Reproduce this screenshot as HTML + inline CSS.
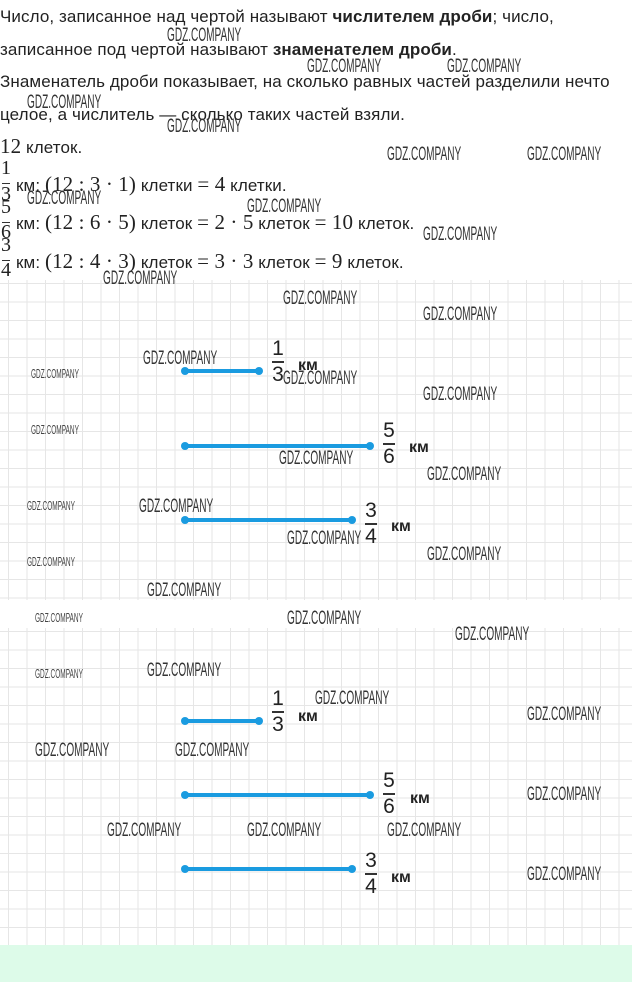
<!DOCTYPE html>
<html><head><meta charset="utf-8"><style>
*{margin:0;padding:0;box-sizing:border-box}
body{width:632px;height:982px;background:#fff;position:relative;overflow:hidden;font-family:"Liberation Sans",sans-serif;color:#222}
.t{position:absolute;left:0;font-size:17px;white-space:nowrap;letter-spacing:0.1px;line-height:20px}
.m{font-family:"Liberation Serif",serif;font-size:21px}
.grid{position:absolute;left:0;width:632px;background-color:#fff;
background-image:linear-gradient(to right,#e6e6e6 1px,transparent 1px),linear-gradient(to bottom,#e6e6e6 1px,transparent 1px);
background-size:18.5px 18.5px}
.w{position:absolute;font-family:"Liberation Sans",sans-serif;font-size:19px;color:#333;transform-origin:0 0;transform:scaleX(0.53);white-space:nowrap;line-height:20px}
.ws{position:absolute;font-size:13px;color:#444;transform-origin:0 0;transform:scaleX(0.5);white-space:nowrap}
.seg{position:absolute;height:4px;background:#1a9be0;border-radius:2px}
.seg:before,.seg:after{content:"";position:absolute;top:-2px;width:8px;height:8px;border-radius:50%;background:#1a9be0}
.seg:before{left:-4px}.seg:after{right:-4px}
.fr{position:absolute;font-size:21px;text-align:center;width:16px;line-height:22px;color:#222}
.fr i{display:block;font-style:normal}
.fr b{display:block;height:1.5px;background:#333;margin:1px 2px}
.km{position:absolute;font-size:16px;font-weight:bold;color:#222}
.sn{position:absolute;left:0;font-family:"Liberation Serif",serif;font-size:20px;line-height:20px;width:12px;text-align:center}
.sb{position:absolute;left:2px;width:8px;height:1.2px;background:#333}
</style></head><body>
<div class="t" style="top:7px">Число, записанное над чертой называют <b>числителем дроби</b>; число,</div>
<div class="t" style="top:40px">записанное под чертой называют <b>знаменателем дроби</b>.</div>
<div class="t" style="top:72px">Знаменатель дроби показывает, на сколько равных частей разделили нечто</div>
<div class="t" style="top:105px">целое, а числитель — сколько таких частей взяли.</div>
<div class="t" style="top:136px"><span class="m">12</span> клеток.</div>

<div class="sn" style="top:158px">1</div><div class="sb" style="top:183px"></div><div class="sn" style="top:184px">3</div>
<div class="t" style="left:16px;top:174px">км: <span class="m">(12 : 3 · 1)</span> клетки <span class="m">= 4</span> клетки.</div>
<div class="sn" style="top:197px">5</div><div class="sb" style="top:222px"></div><div class="sn" style="top:222px">6</div>
<div class="t" style="left:16px;top:212px">км: <span class="m">(12 : 6 · 5)</span> клеток <span class="m">= 2 · 5</span> клеток <span class="m">= 10</span> клеток.</div>
<div class="sn" style="top:235px">3</div><div class="sb" style="top:260px"></div><div class="sn" style="top:260px">4</div>
<div class="t" style="left:16px;top:251px">км: <span class="m">(12 : 4 · 3)</span> клеток <span class="m">= 3 · 3</span> клеток <span class="m">= 9</span> клеток.</div>

<div class="grid" style="top:280px;height:320px;background-position:8px 3px"></div>
<div class="grid" style="top:628px;height:318px;background-position:8px 3px"></div>
<div style="position:absolute;left:0;top:945px;width:632px;height:37px;background:#ddfbe9"></div>

<div class="seg" style="left:185px;top:369px;width:74px"></div>
<div class="fr" style="left:270px;top:338px"><i>1</i><b></b><i>3</i></div>
<div class="km" style="left:298px;top:357px">км</div>
<div class="seg" style="left:185px;top:444px;width:185px"></div>
<div class="fr" style="left:381px;top:420px"><i>5</i><b></b><i>6</i></div>
<div class="km" style="left:409px;top:439px">км</div>
<div class="seg" style="left:185px;top:518px;width:167px"></div>
<div class="fr" style="left:363px;top:500px"><i>3</i><b></b><i>4</i></div>
<div class="km" style="left:391px;top:518px">км</div>

<div class="seg" style="left:185px;top:719px;width:74px"></div>
<div class="fr" style="left:270px;top:688px"><i>1</i><b></b><i>3</i></div>
<div class="km" style="left:298px;top:708px">км</div>
<div class="seg" style="left:185px;top:793px;width:185px"></div>
<div class="fr" style="left:381px;top:770px"><i>5</i><b></b><i>6</i></div>
<div class="km" style="left:410px;top:790px">км</div>
<div class="seg" style="left:185px;top:867px;width:167px"></div>
<div class="fr" style="left:363px;top:850px"><i>3</i><b></b><i>4</i></div>
<div class="km" style="left:391px;top:869px">км</div>

<div class="w" style="left:167px;top:26px">GDZ.COMPANY</div>
<div class="w" style="left:307px;top:57px">GDZ.COMPANY</div>
<div class="w" style="left:447px;top:57px">GDZ.COMPANY</div>
<div class="w" style="left:27px;top:93px">GDZ.COMPANY</div>
<div class="w" style="left:167px;top:117px">GDZ.COMPANY</div>
<div class="w" style="left:387px;top:145px">GDZ.COMPANY</div>
<div class="w" style="left:527px;top:145px">GDZ.COMPANY</div>
<div class="w" style="left:27px;top:189px">GDZ.COMPANY</div>
<div class="w" style="left:247px;top:197px">GDZ.COMPANY</div>
<div class="w" style="left:423px;top:225px">GDZ.COMPANY</div>
<div class="w" style="left:103px;top:269px">GDZ.COMPANY</div>
<div class="w" style="left:283px;top:289px">GDZ.COMPANY</div>
<div class="w" style="left:423px;top:305px">GDZ.COMPANY</div>
<div class="w" style="left:143px;top:349px">GDZ.COMPANY</div>
<div class="w" style="left:283px;top:369px">GDZ.COMPANY</div>
<div class="w" style="left:423px;top:385px">GDZ.COMPANY</div>
<div class="w" style="left:279px;top:449px">GDZ.COMPANY</div>
<div class="w" style="left:427px;top:465px">GDZ.COMPANY</div>
<div class="w" style="left:139px;top:497px">GDZ.COMPANY</div>
<div class="w" style="left:287px;top:529px">GDZ.COMPANY</div>
<div class="w" style="left:427px;top:545px">GDZ.COMPANY</div>
<div class="w" style="left:147px;top:581px">GDZ.COMPANY</div>
<div class="w" style="left:287px;top:609px">GDZ.COMPANY</div>
<div class="w" style="left:455px;top:625px">GDZ.COMPANY</div>
<div class="w" style="left:147px;top:661px">GDZ.COMPANY</div>
<div class="w" style="left:315px;top:689px">GDZ.COMPANY</div>
<div class="w" style="left:527px;top:705px">GDZ.COMPANY</div>
<div class="w" style="left:35px;top:741px">GDZ.COMPANY</div>
<div class="w" style="left:175px;top:741px">GDZ.COMPANY</div>
<div class="w" style="left:527px;top:785px">GDZ.COMPANY</div>
<div class="w" style="left:107px;top:821px">GDZ.COMPANY</div>
<div class="w" style="left:247px;top:821px">GDZ.COMPANY</div>
<div class="w" style="left:387px;top:821px">GDZ.COMPANY</div>
<div class="w" style="left:527px;top:865px">GDZ.COMPANY</div>
<div class="ws" style="left:31px;top:366px">GDZ.COMPANY</div>
<div class="ws" style="left:31px;top:422px">GDZ.COMPANY</div>
<div class="ws" style="left:27px;top:498px">GDZ.COMPANY</div>
<div class="ws" style="left:27px;top:554px">GDZ.COMPANY</div>
<div class="ws" style="left:35px;top:610px">GDZ.COMPANY</div>
<div class="ws" style="left:35px;top:666px">GDZ.COMPANY</div>
</body></html>
